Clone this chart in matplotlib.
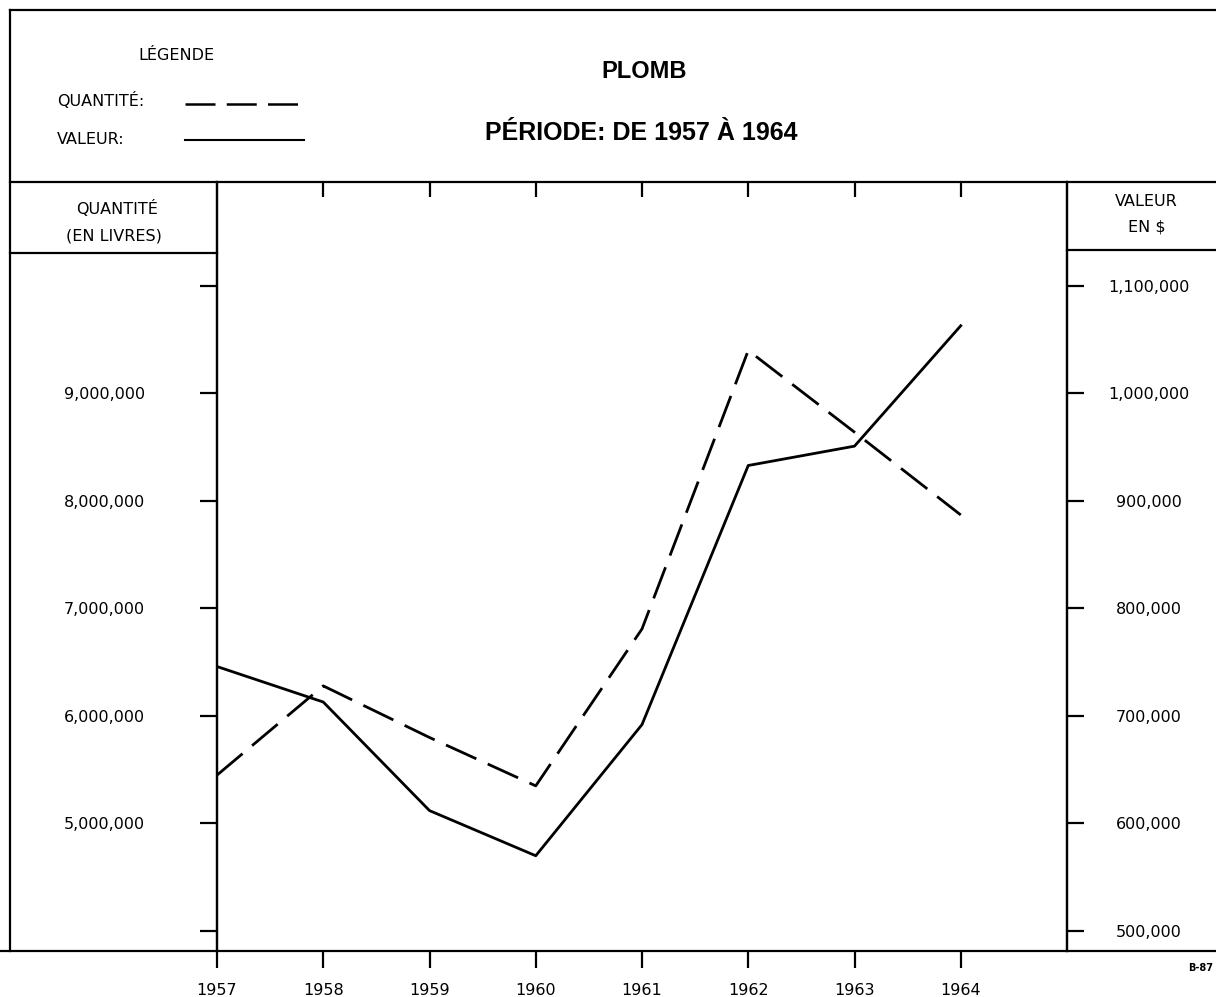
import matplotlib.pyplot as plt
from matplotlib.lines import Line2D
from matplotlib.ticker import FixedLocator, FuncFormatter

# plomb, 1957 - 1964
years = [1957, 1958, 1959, 1960, 1961, 1962, 1963, 1964]
quantite = [5450000, 6280000, 5800000, 5350000, 6810000, 9400000, 8640000, 7870000]
valeur = [746000, 713000, 612000, 570000, 692000, 933000, 951000, 1063000]

qty_ticks = [4000000, 5000000, 6000000, 7000000, 8000000, 9000000, 10000000]
val_ticks = [500000, 600000, 700000, 800000, 900000, 1000000, 1100000]

W, H = 1216, 997
plt.rcParams['font.family'] = ['DejaVu Sans']
fig = plt.figure(figsize=(W / 100, H / 100), dpi=100)

dash = (0, (12, 4.5))


def fx(px):
    return px / W


def fy(py):
    return 1 - py / H


def hline(y, x0, x1, lw=1.6, ls='-'):
    fig.add_artist(Line2D([fx(x0), fx(x1)], [fy(y), fy(y)], color='black', lw=lw,
                          linestyle=ls, transform=fig.transFigure))


def vline(x, y0, y1, lw=1.6):
    fig.add_artist(Line2D([fx(x), fx(x)], [fy(y0), fy(y1)], color='black', lw=lw,
                          transform=fig.transFigure))


# frame
hline(10, 10, W)
hline(182, 10, W)
hline(951, 0, W)
vline(10, 10, 951)
hline(253, 10, 217)
hline(250, 1067, W)

ax = fig.add_axes([fx(217), fy(951), fx(1067) - fx(217), fy(182) - fy(951)])
ax.plot(years, quantite, color='black', lw=2.0, linestyle=dash)
ax.set_xlim(1957, 1965)
ax.set_ylim(3814000, 10967000)

for s in ax.spines.values():
    s.set_linewidth(1.6)
ax.spines['top'].set_visible(False)
ax.spines['bottom'].set_visible(False)

ax.set_xticks(years)
ax.set_xticklabels([str(y) for y in years])
ax.tick_params(axis='x', direction='out', length=12, width=1.6, pad=11, labelsize=11.5)
ax.yaxis.set_major_locator(FixedLocator(qty_ticks))
ax.yaxis.set_major_formatter(FuncFormatter(
    lambda v, p: '' if v in (4000000, 10000000) else f'{int(v):,}'))
ax.tick_params(axis='y', direction='out', length=12, width=1.6, pad=40, labelsize=11.5)

top = ax.secondary_xaxis('top')
top.set_xticks(years[1:])
top.tick_params(direction='in', length=11, width=1.6, labeltop=False)
top.spines['top'].set_visible(False)

ax2 = ax.twinx()
ax2.plot(years, valeur, color='black', lw=2.0)
ax2.set_ylim(481400, 1196700)
ax2.yaxis.set_major_locator(FixedLocator(val_ticks))
ax2.yaxis.set_major_formatter(FuncFormatter(lambda v, p: f'{int(v):,}'))
ax2.tick_params(axis='y', direction='out', length=12, width=1.6, pad=47, labelsize=11.5)
for lbl in ax2.get_yticklabels():
    lbl.set_horizontalalignment('center')
for s in ax2.spines.values():
    s.set_linewidth(1.6)
ax2.spines['top'].set_visible(False)
ax2.spines['bottom'].set_visible(False)

# axis headers
fig.text(fx(117), fy(208), 'QUANTITÉ', ha='center', va='center', fontsize=11.5)
fig.text(fx(114), fy(236), '(EN LIVRES)', ha='center', va='center', fontsize=11.5)
fig.text(fx(1146), fy(202), 'VALEUR', ha='center', va='center', fontsize=11.5)
fig.text(fx(1147), fy(227), 'EN $', ha='center', va='center', fontsize=11.5)

# titles
title_font = ['Liberation Sans', 'DejaVu Sans']
fig.text(fx(644), fy(72), 'PLOMB', ha='center', va='center', fontsize=17,
         fontweight='bold', family=title_font)
fig.text(fx(641), fy(133), 'PÉRIODE: DE 1957 À 1964', ha='center', va='center',
         fontsize=18, fontweight='bold', family=title_font)

# legend
fig.text(fx(176), fy(56), 'LÉGENDE', ha='center', va='center', fontsize=11.5)
fig.text(fx(57), fy(101), 'QUANTITÉ:', ha='left', va='center', fontsize=11.5)
fig.text(fx(57), fy(139), 'VALEUR:', ha='left', va='center', fontsize=11.5)
hline(104, 185, 304, lw=1.8, ls=dash)
hline(140, 185, 304, lw=1.5)

fig.text(fx(1188), fy(968), 'B-87', ha='left', va='center', fontsize=7, fontweight='bold')

fig.savefig('out.png', dpi=100)
